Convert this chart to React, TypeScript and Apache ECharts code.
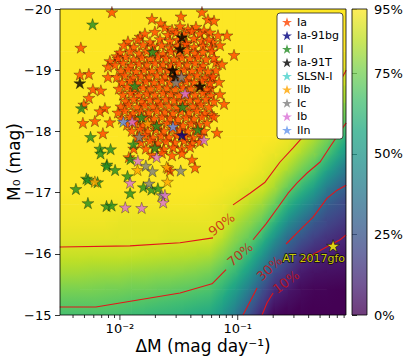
import React, { useEffect, useRef } from 'react';
import * as echarts from 'echarts';

// ---------- colour map (viridis) ----------
const viridis = ['#440154', '#482475', '#414487', '#355f8d', '#2a788e', '#21918c', '#22a884', '#44bf70', '#7ad151', '#bddf26', '#fde725'];

// ---------- background efficiency field (%), node values ----------
const fieldDM = [0.00351, 0.00453, 0.00584, 0.00753, 0.00971, 0.0125, 0.0162, 0.0208, 0.0269, 0.0347, 0.0447, 0.0577, 0.0744, 0.096, 0.124, 0.16, 0.206, 0.266, 0.343, 0.442, 0.57, 0.735];
const fieldMag = [-19.86, -19.58, -19.31, -19.03, -18.75, -18.47, -18.19, -17.92, -17.64, -17.36, -17.08, -16.81, -16.53, -16.25, -15.97, -15.69, -15.42, -15.14];
const efficiency = [
  [95, 95, 95, 95, 95, 95, 95, 95, 95, 95, 95, 95, 95, 95, 95, 95, 95, 95, 95, 95, 95, 95],
  [95, 95, 95, 95, 95, 95, 95, 95, 95, 95, 95, 95, 95, 95, 95, 95, 95, 95, 95, 95, 95, 95],
  [95, 95, 95, 95, 95, 95, 95, 95, 95, 95, 95, 95, 95, 95, 95, 95, 95, 95, 95, 95, 95, 95],
  [95, 95, 95, 95, 95, 95, 95, 95, 95, 95, 95, 95, 95, 95, 95, 95, 95, 95, 95, 95, 95, 92],
  [95, 95, 95, 95, 95, 95, 95, 95, 95, 95, 95, 95, 95, 95, 95, 95, 95, 95, 95, 95, 93, 89],
  [95, 95, 95, 95, 95, 95, 95, 95, 95, 95, 95, 95, 95, 95, 95, 95, 95, 95, 95, 93, 90, 82],
  [95, 95, 95, 95, 95, 95, 95, 95, 95, 95, 95, 95, 95, 95, 95, 95, 95, 95, 93, 91, 84, 75],
  [95, 95, 95, 95, 95, 95, 95, 95, 95, 95, 95, 95, 95, 95, 95, 95, 95, 93, 90, 84, 77, 67],
  [95, 95, 95, 95, 95, 95, 95, 95, 95, 95, 95, 95, 95, 95, 95, 94, 92, 90, 83, 77, 69, 55],
  [95, 95, 95, 95, 95, 95, 95, 95, 95, 95, 95, 95, 95, 95, 94, 92, 89, 82, 75, 68, 54, 43],
  [95, 95, 95, 95, 95, 95, 95, 95, 95, 95, 95, 95, 94, 93, 91, 89, 82, 73, 64, 54, 40, 31],
  [94, 94, 94, 94, 94, 94, 94, 94, 94, 94, 94, 93, 92, 90, 86, 81, 74, 61, 50, 40, 28, 24],
  [93, 93, 93, 93, 92, 92, 92, 92, 92, 92, 92, 92, 91, 84, 79, 74, 62, 47, 36, 27, 21, 17],
  [91, 91, 91, 91, 91, 91, 91, 91, 90, 90, 90, 90, 85, 78, 73, 63, 48, 33, 25, 18, 14, 11],
  [87, 87, 87, 87, 87, 87, 86, 86, 85, 85, 84, 83, 78, 72, 63, 50, 34, 23, 14, 10, 8, 7],
  [82, 82, 81, 81, 81, 80, 80, 79, 79, 78, 77, 75, 70, 63, 52, 36, 22, 14, 7, 5, 4, 4],
  [76, 76, 76, 75, 75, 74, 74, 73, 72, 71, 70, 68, 62, 53, 40, 25, 11, 7, 3, 1, 1, 0],
  [70, 70, 70, 70, 69, 68, 67, 66, 65, 64, 62, 61, 54, 43, 29, 15, 5, 2, 1, 0, 0, 0],
];

// ---------- contour lines (split where the inline labels sit) ----------
const c90a = [[0.00309, -16.11], [0.01216, -16.13], [0.0324, -16.18], [0.0617, -16.26]];
const c90b = [[0.0912, -16.8], [0.1272, -16.99], [0.1706, -17.17], [0.2286, -17.5], [0.2951, -17.73], [0.4365, -18.1], [0.608, -18.51], [0.832, -19.0]];
const c70a = [[0.00309, -15.13], [0.00625, -15.13], [0.0324, -15.36], [0.0605, -15.51], [0.0796, -15.74]];
const c70b = [[0.1349, -16.23], [0.1739, -16.49], [0.22, -16.76], [0.2676, -16.99], [0.3191, -17.16], [0.388, -17.32], [0.5003, -17.5], [0.608, -17.75], [0.832, -18.14]];
const c30a = [[0.1109, -15.0], [0.1322, -15.28], [0.1459, -15.44]];
const c30b = [[0.2573, -16.16], [0.338, -16.39], [0.4363, -16.6], [0.5739, -16.91], [0.6978, -17.04], [0.832, -17.12]];
const c10a = [[0.1609, -15.0], [0.1774, -15.2], [0.1995, -15.36]];
const c10b = [[0.338, -15.85], [0.4279, -15.98], [0.5516, -16.1], [0.7396, -16.23], [0.832, -16.31]];
const contourLevels = ['90%', '70%', '30%', '10%'];
const labelDM = [0.0731, 0.1047, 0.1855, 0.2573];
const labelMag = [-16.48, -15.99, -15.76, -15.54];
const labelAngle = [37, 40, 43, 37];

// ---------- supernovae ----------
const iaPts = [
  [0.00855, -19.95], [0.0187, -19.84], [0.033, -19.88], [0.0497, -19.95], [0.0559, -19.83], [0.0629, -19.81], [0.0222, -19.77],
  [0.0148, -19.55], [0.00466, -19.37], [0.093, -19.25], [0.0811, -19.57], [0.0617, -19.46], [0.0654, -19.13],
  [0.00943, -19.23], [0.00822, -19.15], [0.00791, -19.06], [0.00545, -18.94], [0.00457, -18.93], [0.00791, -18.89],
  [0.0059, -18.69], [0.00689, -18.67], [0.00545, -18.55], [0.00494, -18.44], [0.00746, -18.38], [0.00676, -18.33],
  [0.00485, -18.14], [0.00613, -18.17], [0.00822, -18.15], [0.00717, -17.97], [0.0131, -17.72], [0.0119, -17.58],
  [0.0409, -17.54], [0.0434, -17.41], [0.0266, -17.36], [0.0256, -17.4], [0.0765, -18.45], [0.0667, -17.98], [0.0605, -18.27], [0.0629, -18.24],
  [0.0599, -18.87], [0.0593, -18.71],
  [0.0241, -19.7], [0.0277, -19.66], [0.0324, -19.72], [0.0378, -19.67], [0.0442, -19.71], [0.0517, -19.65],
  [0.0163, -19.6], [0.0198, -19.63], [0.0256, -19.58], [0.0299, -19.62], [0.035, -19.59], [0.0409, -19.64], [0.0478, -19.6], [0.0582, -19.62], [0.068, -19.57],
  [0.0117, -19.47], [0.0142, -19.5], [0.018, -19.46], [0.0219, -19.51], [0.0266, -19.48], [0.0311, -19.5], [0.0364, -19.46], [0.0425, -19.52], [0.0497, -19.48], [0.057, -19.5],
  [0.0108, -19.41], [0.0131, -19.38], [0.0157, -19.42], [0.0191, -19.39], [0.0227, -19.41], [0.0266, -19.37], [0.0311, -19.4], [0.0364, -19.43], [0.0425, -19.38], [0.0507, -19.4], [0.0593, -19.37], [0.0707, -19.41],
  [0.01, -19.29], [0.0122, -19.31], [0.0145, -19.28], [0.0169, -19.32], [0.0198, -19.3], [0.0232, -19.27], [0.0271, -19.31], [0.0317, -19.29], [0.0371, -19.32], [0.0434, -19.28], [0.0507, -19.3], [0.0605, -19.31],
  [0.00962, -19.19], [0.0112, -19.22], [0.0131, -19.18], [0.0154, -19.21], [0.018, -19.19], [0.021, -19.22], [0.0246, -19.2], [0.0288, -19.18], [0.0336, -19.21], [0.0393, -19.19], [0.046, -19.22], [0.0538, -19.18], [0.0629, -19.2],
  [0.00907, -19.09], [0.0106, -19.12], [0.0124, -19.08], [0.0145, -19.11], [0.0169, -19.09], [0.0198, -19.12], [0.0232, -19.1], [0.0271, -19.08], [0.0317, -19.11], [0.0371, -19.09], [0.0434, -19.12], [0.0507, -19.08], [0.0735, -19.1],
  [0.0102, -18.99], [0.0117, -19.02], [0.0137, -18.98], [0.016, -19.01], [0.0187, -18.99], [0.0219, -19.02], [0.0256, -19.0], [0.0299, -18.98], [0.035, -19.01], [0.0409, -18.99], [0.0478, -19.02], [0.0559, -18.98], [0.0654, -19.0],
  [0.00943, -18.89], [0.011, -18.92], [0.0129, -18.88], [0.0151, -18.91], [0.0176, -18.89], [0.0206, -18.92], [0.0241, -18.9], [0.0282, -18.88], [0.033, -18.91], [0.0386, -18.89], [0.0451, -18.92], [0.0527, -18.88], [0.0617, -18.9],
  [0.0104, -18.8], [0.0122, -18.83], [0.0142, -18.79], [0.0166, -18.82], [0.0195, -18.8], [0.0227, -18.83], [0.0266, -18.81], [0.0311, -18.79], [0.0364, -18.82], [0.0425, -18.8], [0.0497, -18.83], [0.0582, -18.79], [0.0694, -18.81],
  [0.00981, -18.7], [0.0115, -18.73], [0.0134, -18.69], [0.0157, -18.72], [0.0183, -18.7], [0.0214, -18.73], [0.0251, -18.71], [0.0293, -18.69], [0.0343, -18.72], [0.0401, -18.7], [0.0469, -18.73], [0.0548, -18.69],
  [0.0106, -18.6], [0.0124, -18.63], [0.0145, -18.59], [0.0169, -18.62], [0.0198, -18.6], [0.0232, -18.63], [0.0271, -18.61], [0.0317, -18.59], [0.0371, -18.62], [0.0434, -18.6], [0.0507, -18.63], [0.0593, -18.59], [0.0707, -18.61],
  [0.0112, -18.5], [0.0131, -18.53], [0.0154, -18.49], [0.018, -18.52], [0.021, -18.5], [0.0246, -18.53], [0.0288, -18.51], [0.0336, -18.49], [0.0393, -18.52], [0.046, -18.5], [0.0538, -18.53], [0.0629, -18.49],
  [0.0102, -18.41], [0.0119, -18.44], [0.014, -18.4], [0.0163, -18.43], [0.0191, -18.41], [0.0223, -18.44], [0.0261, -18.42], [0.0305, -18.4], [0.0357, -18.43], [0.0417, -18.41], [0.0488, -18.44], [0.057, -18.4],
  [0.00962, -18.31], [0.011, -18.34], [0.0129, -18.3], [0.0151, -18.33], [0.0176, -18.31], [0.0206, -18.34], [0.0241, -18.32], [0.0282, -18.3], [0.033, -18.33], [0.0386, -18.31], [0.0451, -18.34], [0.0527, -18.3],
  [0.0104, -18.21], [0.0122, -18.24], [0.0142, -18.2], [0.0166, -18.23], [0.0195, -18.21], [0.0227, -18.24], [0.0266, -18.22], [0.0311, -18.2], [0.0364, -18.23], [0.0425, -18.21], [0.0497, -18.24],
  [0.0115, -18.11], [0.0134, -18.14], [0.0157, -18.1], [0.0183, -18.13], [0.0214, -18.11], [0.0251, -18.14], [0.0293, -18.12], [0.0343, -18.1], [0.0401, -18.13], [0.0469, -18.11], [0.0548, -18.14],
  [0.0126, -18.01], [0.0148, -18.04], [0.0172, -18.0], [0.0202, -18.03], [0.0236, -18.01], [0.0277, -18.04], [0.0324, -18.02], [0.0378, -18.0], [0.0442, -18.03], [0.0517, -18.01],
  [0.014, -17.91], [0.0163, -17.94], [0.0191, -17.9], [0.0223, -17.93], [0.0261, -17.91], [0.0305, -17.94], [0.0357, -17.92], [0.0417, -17.9], [0.0488, -17.93],
  [0.0151, -17.82], [0.018, -17.85], [0.021, -17.81], [0.0246, -17.84], [0.0293, -17.82], [0.035, -17.85], [0.0409, -17.81], [0.0478, -17.83],
  [0.0166, -17.72], [0.0198, -17.75], [0.0236, -17.71], [0.0282, -17.74], [0.0336, -17.72], [0.0393, -17.75],
  [0.0187, -17.62], [0.0227, -17.65], [0.0277, -17.61], [0.0336, -17.64],
];
const ia91bgPts = [[0.0336, -17.94]];
const iiPts = [
  [0.00586, -19.75], [0.0189, -19.3], [0.0134, -18.74], [0.00471, -18.38], [0.034, -18.4], [0.0153, -18.23], [0.0205, -18.09],
  [0.0458, -18.03], [0.00563, -17.91], [0.00676, -17.72], [0.00685, -17.64], [0.00833, -17.71], [0.013, -17.79], [0.00776, -17.46],
  [0.0077, -17.43], [0.0091, -17.37], [0.0123, -17.55], [0.0116, -17.27], [0.0052, -17.23], [0.00537, -17.21], [0.00646, -17.17],
  [0.00423, -17.06], [0.00535, -16.83], [0.0077, -16.78], [0.0085, -16.79], [0.0122, -16.99], [0.0158, -17.09], [0.0185, -17.05],
  [0.021, -17.07], [0.0198, -17.73],
];
const ia91tPts = [[0.00457, -18.79], [0.0336, -19.54], [0.0324, -19.35], [0.028, -19.0], [0.0293, -18.89], [0.0478, -18.74]];
const slsnPts: number[][] = [];
const iibPts = [[0.0172, -18.13], [0.0141, -17.37], [0.00613, -17.18], [0.0249, -17.42], [0.0253, -17.18]];
const icPts = [[0.0333, -18.89], [0.0299, -18.8], [0.0146, -17.91], [0.0166, -17.44], [0.0177, -17.15], [0.0189, -17.35], [0.0328, -17.36], [0.0226, -16.96]];
const ibPts = [[0.0127, -18.16], [0.0357, -18.62], [0.0517, -17.86], [0.0205, -17.58], [0.0142, -17.52], [0.0122, -17.16], [0.0241, -16.96], [0.0233, -16.84], [0.0111, -16.76], [0.0153, -16.75]];
const iinPts = [[0.0107, -18.16], [0.0282, -18.08]];
const gfoPoint = [0.645, -16.13];

const snTypes = ['Ia', 'Ia-91bg', 'II', 'Ia-91T', 'SLSN-I', 'IIb', 'Ic', 'Ib', 'IIn'];
const snColors = ['#ff4500', '#000080', '#228b22', '#000000', '#48d1cc', '#ffa500', '#808080', '#da70d6', '#6495ed'];
const snData = [iaPts, ia91bgPts, iiPts, ia91tPts, slsnPts, iibPts, icPts, ibPts, iinPts];

// ---------- axis ticks ----------
const xMajorTicks = [0.01, 0.1];
const xMinorTicks = [0.004, 0.005, 0.006, 0.007, 0.008, 0.009, 0.02, 0.03, 0.04, 0.05, 0.06, 0.07, 0.08, 0.09, 0.2, 0.3, 0.4, 0.5, 0.6, 0.7, 0.8];

const STAR = 'path://M0,-1L0.2245,-0.309L0.9511,-0.309L0.3633,0.118L0.5878,0.809L0,0.382L-0.5878,0.809L-0.3633,0.118L-0.9511,-0.309L-0.2245,-0.309Z';
const FONT = 'DejaVu Sans';
const SUP: Record<string, string> = { '-': '\u207b', '0': '\u2070', '1': '\u00b9', '2': '\u00b2', '3': '\u00b3', '4': '\u2074', '5': '\u2075', '6': '\u2076', '7': '\u2077', '8': '\u2078', '9': '\u2079' };

const VMAX = 95;
const viridisRGB = viridis.map((h) => [parseInt(h.slice(1, 3), 16), parseInt(h.slice(3, 5), 16), parseInt(h.slice(5, 7), 16)]);
function colorAt(v: number): string {
  const t = (Math.min(Math.max(v, 0), VMAX) / VMAX) * (viridisRGB.length - 1);
  const k = Math.min(Math.floor(t), viridisRGB.length - 2);
  const f = t - k;
  const a = viridisRGB[k];
  const b = viridisRGB[k + 1];
  return `rgb(${Math.round(a[0] + (b[0] - a[0]) * f)},${Math.round(a[1] + (b[1] - a[1]) * f)},${Math.round(a[2] + (b[2] - a[2]) * f)})`;
}

export default function App() {
  const ref = useRef<HTMLDivElement>(null);
  useEffect(() => {
    document.body.style.margin = '0';
    const chart = echarts.init(ref.current as HTMLDivElement, undefined, { renderer: 'svg', width: 407, height: 362 });

    const nC = fieldDM.length;
    const nR = fieldMag.length;
    const quadData: number[][] = [];
    for (let j = 0; j < nR - 1; j++) {
      for (let i = 0; i < nC - 1; i++) quadData.push([fieldDM[i], fieldMag[j], i, j]);
    }

    const fieldSeries = {
      type: 'custom',
      xAxisIndex: 0,
      yAxisIndex: 0,
      silent: true,
      clip: true,
      z: 1,
      encode: { x: 0, y: 1 },
      data: quadData,
      renderItem: (params: any, api: any) => {
        const i = api.value(2);
        const j = api.value(3);
        const cs = params.coordSys;
        const p00 = api.coord([fieldDM[i], fieldMag[j]]);
        const p11 = api.coord([fieldDM[i + 1], fieldMag[j + 1]]);
        const x0 = i === 0 ? cs.x : p00[0];
        const x1 = i === nC - 2 ? cs.x + cs.width : p11[0];
        const y0 = j === 0 ? cs.y : p00[1];
        const y1 = j === nR - 2 ? cs.y + cs.height : p11[1];
        const v00 = efficiency[j][i];
        const v10 = efficiency[j][i + 1];
        const v01 = efficiency[j + 1][i];
        const v11 = efficiency[j + 1][i + 1];
        const dx = p11[0] - p00[0];
        const dy = p11[1] - p00[1];
        const gx = ((v10 + v11) - (v00 + v01)) / 2 / dx;
        const gy = ((v01 + v11) - (v00 + v10)) / 2 / dy;
        const vc = (v00 + v10 + v01 + v11) / 4;
        const cx = (p00[0] + p11[0]) / 2;
        const cy = (p00[1] + p11[1]) / 2;
        const g = Math.sqrt(gx * gx + gy * gy);
        const shape = { x: x0, y: y0, width: x1 - x0 + 0.6, height: y1 - y0 + 0.6 };
        if (g < 1e-6) {
          return { type: 'rect', shape, style: { fill: colorAt(vc) } };
        }
        const ux = gx / g;
        const uy = gy / g;
        const proj = [
          (x0 - cx) * ux + (y0 - cy) * uy,
          (x1 - cx) * ux + (y0 - cy) * uy,
          (x0 - cx) * ux + (y1 - cy) * uy,
          (x1 - cx) * ux + (y1 - cy) * uy,
        ];
        const tmin = Math.min(...proj) - 1;
        const tmax = Math.max(...proj) + 1;
        const vA = vc + g * tmin;
        const vB = vc + g * tmax;
        const stops = [0, 0.25, 0.5, 0.75, 1].map((f) => ({ offset: f, color: colorAt(vA + (vB - vA) * f) }));
        return {
          type: 'rect',
          shape,
          style: {
            fill: new echarts.graphic.LinearGradient(cx + ux * tmin, cy + uy * tmin, cx + ux * tmax, cy + uy * tmax, stops, true),
          },
        };
      },
    };

    const contourSeries = [c90a, c90b, c70a, c70b, c30a, c30b, c10a, c10b].map((seg) => ({
      type: 'line',
      xAxisIndex: 0,
      yAxisIndex: 0,
      data: seg,
      showSymbol: false,
      symbol: 'none',
      silent: true,
      z: 3,
      lineStyle: { color: '#e3151a', width: 1.1 },
    }));

    const labelSeries = {
      type: 'scatter',
      xAxisIndex: 0,
      yAxisIndex: 0,
      silent: true,
      z: 4,
      symbolSize: 0.1,
      itemStyle: { color: 'transparent' },
      data: contourLevels.map((t, i) => ({
        name: t,
        value: [labelDM[i], labelMag[i]],
        label: { rotate: labelAngle[i] },
      })),
      label: {
        show: true,
        position: 'inside',
        formatter: (p: any) => p.name,
        color: '#cc1010',
        fontSize: 13,
        fontFamily: FONT,
        align: 'center',
        verticalAlign: 'middle',
      },
    };

    const tickSeries = {
      type: 'custom',
      xAxisIndex: 0,
      yAxisIndex: 0,
      silent: true,
      clip: false,
      z: 3,
      encode: { x: 0, y: 1 },
      data: [...xMajorTicks.map((v) => [v, -15, 1]), ...xMinorTicks.map((v) => [v, -15, 0])],
      renderItem: (params: any, api: any) => {
        const p = api.coord([api.value(0), api.value(1)]);
        const len = api.value(2) === 1 ? 5 : 3;
        return {
          type: 'line',
          shape: { x1: p[0], y1: p[1], x2: p[0], y2: p[1] + len },
          style: { stroke: '#000', lineWidth: 0.8 },
        };
      },
    };

    const snSeries = snTypes.map((name, i) => ({
      type: 'scatter',
      name,
      xAxisIndex: 0,
      yAxisIndex: 0,
      data: snData[i],
      symbol: STAR,
      symbolKeepAspect: true,
      symbolSize: 12,
      silent: true,
      z: 5,
      itemStyle: { color: snColors[i], borderColor: 'rgba(0,0,0,0.62)', borderWidth: 0.6 },
    }));

    const gfoSeries = {
      type: 'scatter',
      name: 'AT 2017gfo',
      xAxisIndex: 0,
      yAxisIndex: 0,
      data: [gfoPoint],
      symbol: STAR,
      symbolKeepAspect: true,
      symbolSize: 13,
      silent: true,
      z: 6,
      itemStyle: { color: '#ffff00', borderColor: '#000', borderWidth: 0.6 },
      label: {
        show: true,
        formatter: 'AT 2017gfo',
        position: [-12.5, 19.5],
        align: 'center',
        verticalAlign: 'middle',
        color: '#ffff00',
        textBorderColor: '#000',
        textBorderWidth: 1.3,
        fontSize: 11,
        fontFamily: FONT,
      },
    };

    const option: any = {
      animation: false,
      textStyle: { fontFamily: FONT },
      grid: [
        { left: 60, top: 9, width: 286, height: 306, show: true, borderColor: '#000', borderWidth: 0.8, backgroundColor: 'transparent', z: 10, outerBoundsMode: 'none', containLabel: false },
        { left: 352, top: 9, width: 15, height: 306, show: true, borderColor: '#000', borderWidth: 0.8, backgroundColor: 'transparent', z: 10, outerBoundsMode: 'none', containLabel: false },
      ],
      xAxis: [
        {
          gridIndex: 0,
          type: 'log',
          logBase: 10,
          min: 0.0031,
          max: 0.83,
          axisLine: { show: false },
          axisTick: { show: false },
          splitLine: { show: false },
          axisLabel: {
            fontSize: 13,
            color: '#000',
            margin: 7,
            showMinLabel: true,
            showMaxLabel: true,
            formatter: (v: number) => {
              const l = Math.log10(v);
              const r = Math.round(l);
              if (Math.abs(l - r) > 1e-6) return '';
              return '10' + String(r).split('').map((c) => SUP[c] || c).join('');
            },
          },
          name: 'ΔM (mag day\u207b\u00b9)',
          nameLocation: 'middle',
          nameGap: 22,
          nameMoveOverlap: false,
          nameTextStyle: { fontSize: 17, color: '#000', fontFamily: FONT },
        },
        { gridIndex: 1, type: 'value', min: 0, max: 1, show: false },
      ],
      yAxis: [
        {
          gridIndex: 0,
          type: 'value',
          min: -20,
          max: -15,
          interval: 1,
          inverse: true,
          axisLine: { show: false },
          axisTick: { show: true, length: 5, lineStyle: { color: '#000', width: 0.8 } },
          splitLine: { show: false },
          axisLabel: {
            fontSize: 13,
            color: '#000',
            margin: 8.5,
            formatter: (v: number) => (v < 0 ? '\u2212' + Math.abs(v) : String(v)),
          },
          name: 'M\u2080 (mag)',
          nameLocation: 'middle',
          nameRotate: 90,
          nameGap: 38,
          nameMoveOverlap: false,
          nameTextStyle: { fontSize: 17, color: '#000', fontFamily: FONT },
        },
        {
          gridIndex: 1,
          type: 'value',
          position: 'right',
          min: 0,
          max: 95,
          interval: 25,
          axisLine: { show: false },
          axisTick: { show: true, length: 5, lineStyle: { color: '#000', width: 0.8 } },
          splitLine: { show: false },
          axisLabel: { fontSize: 13, color: '#000', margin: 7, formatter: '{value}%', showMaxLabel: true, showMinLabel: true },
        },
      ],
      legend: {
        data: snTypes,
        orient: 'vertical',
        left: 277,
        top: 13,
        itemWidth: 10,
        itemHeight: 10,
        itemGap: 2.5,
        padding: [3.5, 4, 3.5, 5],
        icon: STAR,
        itemStyle: { borderWidth: 0 },
        borderColor: '#222',
        borderWidth: 0.8,
        borderRadius: 3,
        backgroundColor: '#ffffff',
        textStyle: { fontSize: 11, color: '#000', fontFamily: FONT },
        z: 20,
      },
      graphic: [
        {
          type: 'rect',
          left: 352,
          top: 9,
          z: 1,
          silent: true,
          shape: { width: 15, height: 306 },
          style: {
            fill: new echarts.graphic.LinearGradient(0, 1, 0, 0, viridis.map((c, i) => ({ offset: i / (viridis.length - 1), color: c }))),
            opacity: 0.77,
          },
        },
      ],
      series: [fieldSeries, ...contourSeries, labelSeries, tickSeries, ...snSeries, gfoSeries],
    };

    chart.setOption(option);
    return () => chart.dispose();
  }, []);

  return <div ref={ref} style={{ position: 'absolute', left: 0, top: 0, width: 407, height: 362 }} />;
}
